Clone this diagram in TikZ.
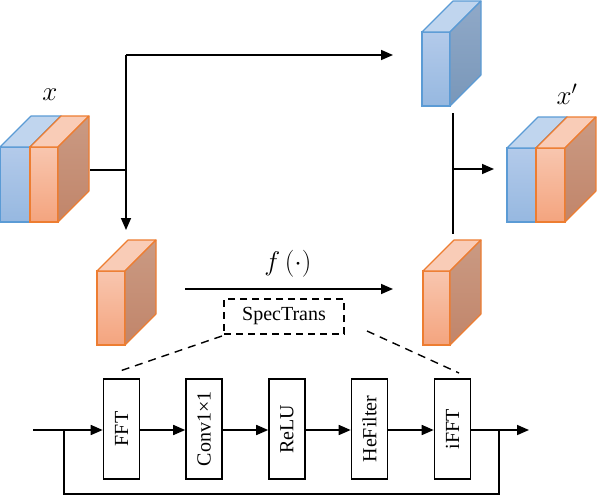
\RequirePackage{fix-cm}
\documentclass[tikz,border=0pt]{standalone}
\usepackage{fontspec}
\setmainfont{Liberation Serif}
\usetikzlibrary{arrows.meta}
\definecolor{bF1}{HTML}{B3CAEA}
\definecolor{bF2}{HTML}{96B8E0}
\definecolor{bT}{HTML}{C0D5EE}
\definecolor{bS1}{HTML}{90A9C8}
\definecolor{bS2}{HTML}{7997B9}
\definecolor{bE}{HTML}{5B9BD5}
\definecolor{oF1}{HTML}{F8C6AF}
\definecolor{oF2}{HTML}{F4A47E}
\definecolor{oT}{HTML}{F9CCB7}
\definecolor{oS1}{HTML}{CA9A83}
\definecolor{oS2}{HTML}{C1856A}
\definecolor{oE}{HTML}{ED7D31}
\newcommand\mycube[5]{%
  \shade[top color=#5F1,bottom color=#5F2] (#1,#2) rectangle ++(#3,#4);
  \draw[#5E,line width=1.1pt] (#1,#2) rectangle ++(#3,#4);
  \fill[#5T] (#1,#2) -- ++(31,-31) -- ++(#3,0) -- ++(-31,31) -- cycle;
  \draw[#5E,line width=1.1pt,line join=round] (#1,#2) -- ++(31,-31) -- ++(#3,0) -- ++(-31,31) -- cycle;
  \shade[top color=#5S1,bottom color=#5S2] (#1+#3,#2) -- ++(31,-31) -- ++(0,#4) -- ++(-31,31) -- cycle;
  \draw[#5E,line width=1.1pt,line join=round] (#1+#3,#2) -- ++(31,-31) -- ++(0,#4) -- ++(-31,31) -- cycle;
}
\begin{document}
\begin{tikzpicture}[x=1pt,y=-1pt,
  conn/.style={line width=1.6pt,-{Triangle[length=12pt,width=10pt]}},
  plain/.style={line width=1.6pt},
  opbox/.style={draw,line width=1.6pt,minimum width=36pt,minimum height=100pt,inner sep=0pt,font=\fontsize{20}{24}\selectfont},
  dashbox/.style={draw,line width=1.4pt,dash pattern=on 7pt off 5pt,minimum width=120pt,minimum height=35pt,inner sep=0pt,font=\fontsize{20}{24}\selectfont},
  lbl/.style={font=\fontsize{27}{32}\selectfont}]
\useasboundingbox (0,0) rectangle (597,496);
% cubes
\mycube{0}{147}{30}{75}{b}
\mycube{30}{147}{28}{75}{o}
\mycube{422}{32}{28}{74}{b}
\mycube{507}{148}{29}{74}{b}
\mycube{536}{148}{29}{74}{o}
\mycube{97}{271}{28}{74}{o}
\mycube{423}{271}{27}{74}{o}
% labels
\node[lbl] (lx) at (50,95) {$x$};
\node[lbl] (lxp) at (567,94) {$x'$};
\node[lbl] (lf) at (288,264) {$f\,(\cdot)$};
% connector points
\coordinate (inx) at (90,170);
\coordinate (j1) at (126,170);
\coordinate (top) at (126,55);
\coordinate (topend) at (393,55);
\coordinate (down) at (126,230);
\coordinate (fs) at (185,289);
\coordinate (fe) at (393,289);
\coordinate (vt) at (453,113);
\coordinate (vb) at (453,234);
\coordinate (vm) at (453,169);
\coordinate (out) at (494,169);
\draw[plain] (inx) -- (j1);
\draw[plain] (top) -- (j1);
\draw[conn] (j1) -- (down);
\draw[conn] (top) -- (topend);
\draw[conn] (fs) -- (fe);
\draw[plain] (vt) -- (vb);
\draw[conn] (vm) -- (out);
% SpecTrans
\node[dashbox] (spec) at (284,316.5) {SpecTrans};
\coordinate (dl1) at (222,336);
\coordinate (dl2) at (117,372);
\coordinate (dr1) at (367,331);
\coordinate (dr2) at (459,373);
\draw[line width=1.4pt,dash pattern=on 8pt off 6pt] (dl1) -- (dl2);
\draw[line width=1.4pt,dash pattern=on 8pt off 6pt] (dr1) -- (dr2);
% bottom chain
\node[opbox] (fft) at (121.5,429) {\rotatebox{90}{FFT}};
\node[opbox] (conv) at (204,429) {\rotatebox{90}{Conv1×1}};
\node[opbox] (relu) at (287,429) {\rotatebox{90}{ReLU}};
\node[opbox] (hef) at (369.5,429) {\rotatebox{90}{HeFilter}};
\node[opbox] (ifft) at (452.5,429) {\rotatebox{90}{iFFT}};
\coordinate (bin) at (33,430);
\coordinate (bsplit) at (64,430);
\coordinate (bl) at (64,494);
\coordinate (br) at (499,494);
\coordinate (bjoin) at (499,430);
\coordinate (bout) at (529,430);
\draw[conn] (bin) -- (fft.west |- bin);
\draw[conn] (fft.east |- bin) -- (conv.west |- bin);
\draw[conn] (conv.east |- bin) -- (relu.west |- bin);
\draw[conn] (relu.east |- bin) -- (hef.west |- bin);
\draw[conn] (hef.east |- bin) -- (ifft.west |- bin);
\draw[conn] (ifft.east |- bin) -- (bout);
\draw[plain] (bsplit) -- (bl) -- (br) -- (bjoin);
\end{tikzpicture}
\end{document}
